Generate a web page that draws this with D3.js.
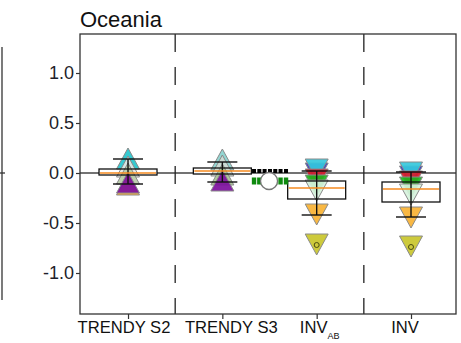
<!DOCTYPE html>
<html>
<head>
<meta charset="utf-8">
<script src="https://cdn.jsdelivr.net/npm/d3@7"></script>
<style>
  body { margin: 0; background: #fff; }
  svg { display: block; font-family: Arial, "Liberation Sans", sans-serif; }
</style>
</head>
<body>
<div id="chart"></div>
<script>
// categories and axis ticks
const groups = ['TRENDY S2', 'TRENDY S3', 'INV', 'INV']
const groupSub = ['', '', 'AB', '']
const yTicks = [-1.0, -0.5, 0.0, 0.5, 1.0]
const separators = [0.5, 2.5]

// boxplot per group
const boxLow = [-0.02, -0.01, -0.26, -0.29]
const boxMid = [0.00, 0.02, -0.15, -0.16]
const boxHigh = [0.04, 0.05, -0.08, -0.09]

// model triangles (draw order = array order)
const s2Values = [0.13, 0.05, -0.02, -0.13, -0.11]
const s2Colors = ['#25c4cc', '#e4e8e4', '#b8cca8', '#f7a830', '#7d0f9e']
const s3Values = [0.12, 0.06, -0.03, -0.09]
const s3Colors = ['#8ad2ce', '#cfdcd4', '#a8c494', '#7d0f9e']
const invAbValues = [0.01, 0.05, -0.05, -0.11, -0.16, -0.40, -0.70]
const invValues = [-0.02, 0.02, -0.07, -0.13, -0.20, -0.43, -0.72]
const invColors = ['#2b35c8', '#35c8dc', '#d81a2a', '#1cb41c', '#d6f2dc', '#f8b233', '#c9c52b']
const dotValues = [null, null, -0.72, -0.74]

// ensemble spread
const errLow = [-0.11, -0.09, -0.42, -0.44]
const errHigh = [0.14, 0.11, 0.02, 0.01]

// extra products plotted between TRENDY S3 and INV_AB
const sqX = [1.336, 1.392, 1.448, 1.505, 1.561, 1.617, 1.675]
const blackSqValue = 0.02
const greenSqValue = -0.08
const circleX = 1.495
const circleValue = -0.08

const width = 461, height = 343
const margin = {left: 80, right: 5, top: 34, bottom: 29}
// labels in the original are not exactly centred on their ticks
const labelShift = [-4, 9, 3, -6]

const svg = d3.select('#chart').append('svg')
  .attr('width', width)
  .attr('height', height)

const x = d3.scaleLinear().domain([-0.509, 3.477]).range([margin.left, width - margin.right])
const y = d3.scaleLinear().domain([-1.41, 1.39]).range([height - margin.bottom, margin.top])

// bit of the neighbouring panel at the left edge
svg.append('line').attr('x1', 2).attr('x2', 2).attr('y1', 47).attr('y2', 300)
  .attr('stroke', '#333').attr('stroke-width', 1.3)
svg.append('line').attr('x1', 0).attr('x2', 5).attr('y1', y(0)).attr('y2', y(0))
  .attr('stroke', '#333').attr('stroke-width', 1.3)

svg.append('text').attr('x', 80).attr('y', 27)
  .attr('font-size', 22).attr('fill', '#111').text('Oceania')

// zero line
svg.append('line')
  .attr('x1', x.range()[0]).attr('x2', x.range()[1])
  .attr('y1', y(0)).attr('y2', y(0))
  .attr('stroke', '#444').attr('stroke-width', 1.3)

// dashed separators
svg.selectAll('.sep').data(separators).enter().append('line')
  .attr('x1', d => x(d)).attr('x2', d => x(d))
  .attr('y1', y.range()[1]).attr('y2', y.range()[0])
  .attr('stroke', '#222').attr('stroke-width', 1.3)
  .attr('stroke-dasharray', '18,15')

const boxHalf = 29
const capHalf = 15

// box fills first
svg.selectAll('.boxfill').data(groups).enter().append('rect')
  .attr('x', (d, i) => x(i) - boxHalf)
  .attr('y', (d, i) => y(boxHigh[i]))
  .attr('width', boxHalf * 2)
  .attr('height', (d, i) => y(boxLow[i]) - y(boxHigh[i]))
  .attr('fill', '#fff')

function tri(cx, cy, up) {
  if (up) return `M${cx},${cy - 12}L${cx + 11.5},${cy + 9}L${cx - 11.5},${cy + 9}Z`
  return `M${cx},${cy + 12}L${cx + 11.5},${cy - 9}L${cx - 11.5},${cy - 9}Z`
}

function drawTriangles(vals, cols, gi, up) {
  svg.append('g').selectAll('path').data(vals).enter().append('path')
    .attr('d', d => tri(x(gi), y(d), up))
    .attr('fill', (d, i) => cols[i])
    .attr('fill-opacity', 0.92)
    .attr('stroke', '#8a8a8a')
    .attr('stroke-width', 1)
}
drawTriangles(s2Values, s2Colors, 0, true)
drawTriangles(s3Values, s3Colors, 1, true)
drawTriangles(invAbValues, invColors, 2, false)
drawTriangles(invValues, invColors, 3, false)

// small circles inside last triangle
svg.selectAll('.dot').data(dotValues.map((v, i) => ({v, i})).filter(d => d.v !== null))
  .enter().append('circle')
  .attr('cx', d => x(d.i)).attr('cy', d => y(d.v)).attr('r', 2.5)
  .attr('fill', 'none').attr('stroke', '#4a4a10').attr('stroke-width', 1)

// error bars
const err = svg.append('g').attr('stroke', '#111').attr('stroke-width', 1.4)
groups.forEach((g, i) => {
  err.append('line').attr('x1', x(i)).attr('x2', x(i))
    .attr('y1', y(errHigh[i])).attr('y2', y(errLow[i]))
  err.append('line').attr('x1', x(i) - capHalf).attr('x2', x(i) + capHalf)
    .attr('y1', y(errHigh[i])).attr('y2', y(errHigh[i]))
  err.append('line').attr('x1', x(i) - capHalf).attr('x2', x(i) + capHalf)
    .attr('y1', y(errLow[i])).attr('y2', y(errLow[i]))
})

// box outlines + medians
svg.selectAll('.box').data(groups).enter().append('rect')
  .attr('x', (d, i) => x(i) - boxHalf)
  .attr('y', (d, i) => y(boxHigh[i]))
  .attr('width', boxHalf * 2)
  .attr('height', (d, i) => y(boxLow[i]) - y(boxHigh[i]))
  .attr('fill', 'none').attr('stroke', '#111').attr('stroke-width', 1.3)
svg.selectAll('.med').data(groups).enter().append('line')
  .attr('x1', (d, i) => x(i) - boxHalf + 1).attr('x2', (d, i) => x(i) + boxHalf - 1)
  .attr('y1', (d, i) => y(boxMid[i])).attr('y2', (d, i) => y(boxMid[i]))
  .attr('stroke', '#f58a1f').attr('stroke-width', 1.3)

// extra products
svg.selectAll('.sqb').data(sqX).enter().append('rect')
  .attr('x', d => x(d) - 2).attr('y', y(blackSqValue) - 2)
  .attr('width', 4).attr('height', 4).attr('fill', '#000')
svg.selectAll('.sqg').data(sqX).enter().append('rect')
  .attr('x', d => x(d) - 2.2).attr('y', y(greenSqValue) - 3.5)
  .attr('width', 4.4).attr('height', 7).attr('fill', '#0e8a0e')
svg.append('circle').attr('cx', x(circleX)).attr('cy', y(circleValue)).attr('r', 8.5)
  .attr('fill', '#fff').attr('stroke', '#777').attr('stroke-width', 1.3)

// frame
svg.append('rect')
  .attr('x', x.range()[0]).attr('y', y.range()[1])
  .attr('width', x.range()[1] - x.range()[0])
  .attr('height', y.range()[0] - y.range()[1])
  .attr('fill', 'none').attr('stroke', '#333').attr('stroke-width', 1.3)

// y axis
const yAxis = d3.axisLeft(y).tickValues(yTicks).tickSize(4).tickPadding(2)
  .tickFormat(d3.format('.1f'))
const ya = svg.append('g').attr('transform', `translate(${margin.left},0)`).call(yAxis)
ya.select('.domain').remove()
ya.selectAll('.tick line').attr('stroke', '#333').attr('stroke-width', 1.2)
ya.selectAll('.tick text').attr('font-size', 18).attr('fill', '#1e1e2a')
  .attr('font-family', 'Arial, "Liberation Sans", sans-serif')
  .text(d => d3.format('.1f')(d).replace('−', '-'))

// x axis
const xAxis = d3.axisBottom(x).tickValues(d3.range(groups.length)).tickSize(5).tickFormat('')
const xa = svg.append('g').attr('transform', `translate(0,${height - margin.bottom})`).call(xAxis)
xa.select('.domain').remove()
xa.selectAll('.tick line').attr('stroke', '#333').attr('stroke-width', 1.2)

const xl = svg.selectAll('.xlab').data(groups).enter().append('text')
  .attr('x', (d, i) => x(i) + labelShift[i])
  .attr('y', 333)
  .attr('text-anchor', 'middle')
  .attr('font-size', 16.6)
  .attr('fill', '#111')
xl.append('tspan').text(d => d)
xl.append('tspan').attr('font-size', 9).attr('dy', 6).text((d, i) => groupSub[i])
</script>
</body>
</html>
